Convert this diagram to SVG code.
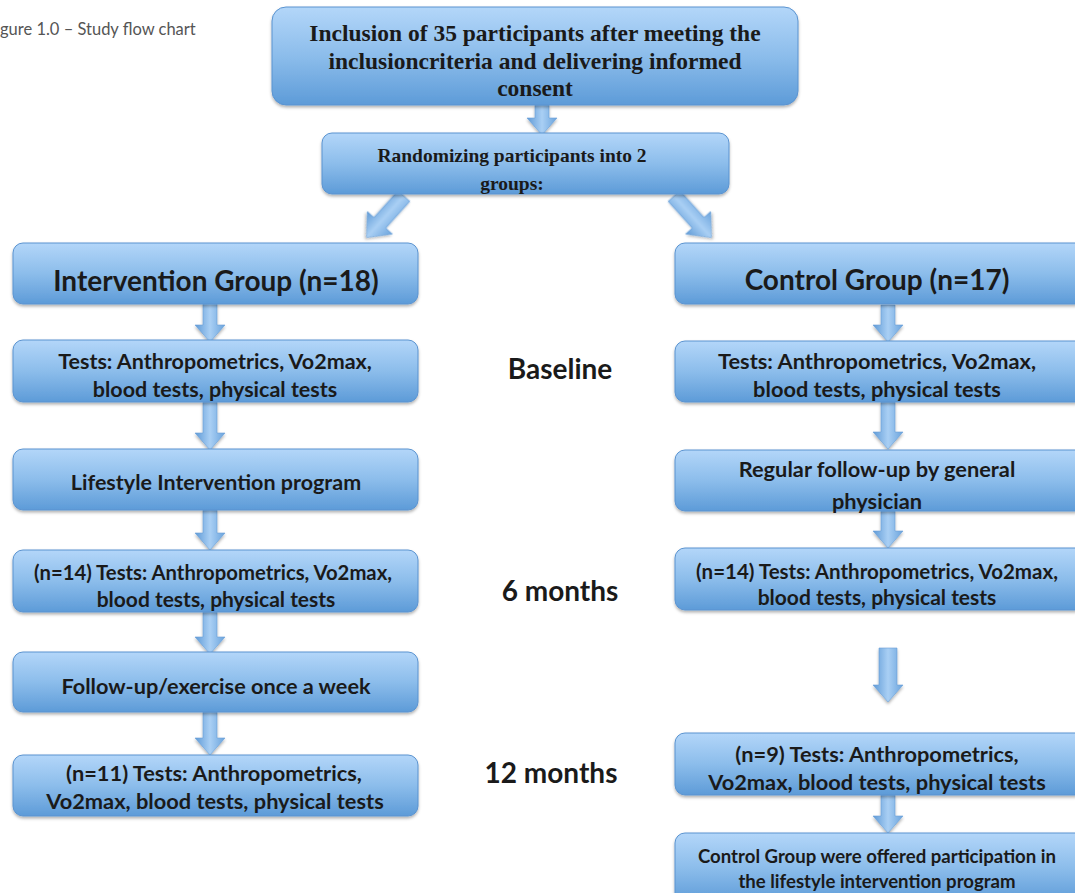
<svg xmlns="http://www.w3.org/2000/svg" width="1075" height="893" viewBox="0 0 1075 893">
<defs>
<linearGradient id="gBox" x1="0" y1="0" x2="0" y2="1">
<stop offset="0" stop-color="#b3d6f9"/>
<stop offset="0.5" stop-color="#8cbdeb"/>
<stop offset="1" stop-color="#5d9bd8"/>
</linearGradient>
<linearGradient id="gArr" x1="0" y1="0" x2="1" y2="0">
<stop offset="0" stop-color="#5f9ad6"/>
<stop offset="0.5" stop-color="#a9cff4"/>
<stop offset="1" stop-color="#6aa3dc"/>
</linearGradient>
<filter id="sh" x="-5%" y="-10%" width="110%" height="130%">
<feDropShadow dx="0" dy="2" stdDeviation="1.5" flood-color="#000" flood-opacity="0.3"/>
</filter>
</defs>
<style>
.box{fill:url(#gBox);stroke:#5a93d0;stroke-width:1;filter:url(#sh)}
.arr{fill:url(#gArr);stroke:#6a9fd6;stroke-width:0.6;filter:url(#sh)}
.t{font-family:Lato,"Open Sans",Calibri,sans-serif;font-weight:bold;fill:#1a1a1a;text-anchor:middle}
.s{font-family:"Liberation Serif","Times New Roman",serif;font-weight:bold;fill:#1a1a1a;text-anchor:middle}
.lbl{font-family:Lato,"Open Sans",sans-serif;font-weight:bold;fill:#1a1a1a;text-anchor:middle;font-size:28px}
.cap{font-family:Lato,"Open Sans",sans-serif;fill:#555;font-size:16.5px}
</style>
<rect width="1075" height="893" fill="#fff"/>
<text class="cap" x="0" y="35">gure 1.0 – Study flow chart</text>

<g id="connectors">
<path class="arr" transform="translate(542,105)" d="M-7,0H7V13H15L0,30L-15,13H-7Z"/>
<path class="arr" transform="translate(404,196) rotate(42)" d="M-8,0H8V36H17L0,56L-17,36H-8Z"/>
<path class="arr" transform="translate(674,196) rotate(-42)" d="M-8,0H8V36H17L0,56L-17,36H-8Z"/>
<path class="arr" transform="translate(210,303)" d="M-7,0H7V22H15L0,39L-15,22H-7Z"/>
<path class="arr" transform="translate(210,402)" d="M-7,0H7V31H15L0,48L-15,31H-7Z"/>
<path class="arr" transform="translate(210,510)" d="M-7,0H7V23H15L0,40L-15,23H-7Z"/>
<path class="arr" transform="translate(210,612)" d="M-7,0H7V25H15L0,42L-15,25H-7Z"/>
<path class="arr" transform="translate(210,712)" d="M-7,0H7V26H15L0,43L-15,26H-7Z"/>
<path class="arr" transform="translate(888,305)" d="M-7,0H7V20H15L0,37L-15,20H-7Z"/>
<path class="arr" transform="translate(888,402)" d="M-7,0H7V30H15L0,47L-15,30H-7Z"/>
<path class="arr" transform="translate(888,511)" d="M-7,0H7V20H15L0,37L-15,20H-7Z"/>
<path class="arr" transform="translate(888,648)" d="M-9,0H9V37H15L0,54L-15,37H-9Z"/>
<path class="arr" transform="translate(888,795)" d="M-7,0H7V21H15L0,38L-15,21H-7Z"/>
</g>

<g id="n-inclusion">
<rect class="box" x="272" y="7" width="526" height="98" rx="14"/>
<text class="s" font-size="23.5" x="535" y="41">Inclusion of 35 participants after meeting the</text>
<text class="s" font-size="23.5" x="535" y="69">inclusioncriteria and delivering informed</text>
<text class="s" font-size="23.5" x="535" y="96">consent</text>
</g>
<g id="n-random">
<rect class="box" x="322" y="133" width="407" height="61" rx="10"/>
<text class="s" font-size="19.5" x="512" y="162">Randomizing participants into 2</text>
<text class="s" font-size="19.5" x="512" y="190">groups:</text>
</g>

<g id="n-int-group">
<rect class="box" x="13" y="243" width="405" height="61" rx="10"/>
<text class="t" font-size="28" x="216" y="291">Intervention Group (n=18)</text>
</g>
<g id="n-int-base">
<rect class="box" x="13" y="340" width="405" height="62" rx="10"/>
<text class="t" font-size="21.5" x="215" y="369">Tests: Anthropometrics, Vo2max,</text>
<text class="t" font-size="21.5" x="215" y="397">blood tests, physical tests</text>
</g>
<g id="n-int-life">
<rect class="box" x="13" y="449" width="405" height="61" rx="10"/>
<text class="t" font-size="21.5" x="216" y="490">Lifestyle Intervention program</text>
</g>
<g id="n-int-6m">
<rect class="box" x="13" y="550" width="405" height="62" rx="10"/>
<text class="t" font-size="20.3" x="213" y="580">(n=14) Tests: Anthropometrics, Vo2max,</text>
<text class="t" font-size="21" x="216" y="607">blood tests, physical tests</text>
</g>
<g id="n-int-follow">
<rect class="box" x="13" y="652" width="405" height="60" rx="10"/>
<text class="t" font-size="21.7" x="216" y="694">Follow-up/exercise once a week</text>
</g>
<g id="n-int-12m">
<rect class="box" x="13" y="755" width="405" height="61" rx="10"/>
<text class="t" font-size="21.8" x="214" y="781">(n=11) Tests: Anthropometrics,</text>
<text class="t" font-size="21.8" x="215" y="809">Vo2max, blood tests, physical tests</text>
</g>

<g id="n-ctl-group">
<rect class="box" x="675" y="243" width="410" height="61" rx="10"/>
<text class="t" font-size="28" x="877" y="290">Control Group (n=17)</text>
</g>
<g id="n-ctl-base">
<rect class="box" x="675" y="341" width="410" height="61" rx="10"/>
<text class="t" font-size="21.8" x="877" y="369">Tests: Anthropometrics, Vo2max,</text>
<text class="t" font-size="21.8" x="877" y="397">blood tests, physical tests</text>
</g>
<g id="n-ctl-regular">
<rect class="box" x="675" y="450" width="410" height="61" rx="10"/>
<text class="t" font-size="21.8" x="877" y="477">Regular follow-up by general</text>
<text class="t" font-size="21.8" x="877" y="509">physician</text>
</g>
<g id="n-ctl-6m">
<rect class="box" x="675" y="548" width="410" height="62" rx="10"/>
<text class="t" font-size="20.5" x="877" y="579">(n=14) Tests: Anthropometrics, Vo2max,</text>
<text class="t" font-size="21" x="877" y="605">blood tests, physical tests</text>
</g>
<g id="n-ctl-12m">
<rect class="box" x="675" y="733" width="410" height="62" rx="10"/>
<text class="t" font-size="21.8" x="877" y="762">(n=9) Tests: Anthropometrics,</text>
<text class="t" font-size="21.8" x="877" y="790">Vo2max, blood tests, physical tests</text>
</g>
<g id="n-ctl-offer">
<rect class="box" x="675" y="833" width="410" height="70" rx="10"/>
<text class="t" font-size="18.6" x="877" y="863">Control Group were offered participation in</text>
<text class="t" font-size="18.6" x="877" y="888">the lifestyle intervention program</text>
</g>

<g id="labels">
<text class="lbl" x="560" y="379">Baseline</text>
<text class="lbl" x="560" y="601">6 months</text>
<text class="lbl" x="551" y="783">12 months</text>
</g>
</svg>
